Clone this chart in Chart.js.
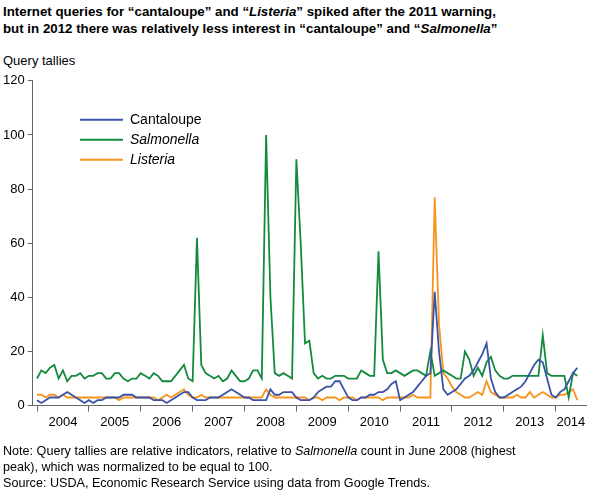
<!DOCTYPE html>
<html><head><meta charset="utf-8">
<script src="https://cdn.jsdelivr.net/npm/chart.js@4"></script>
<style>
body{margin:0;width:590px;height:493px;background:#fff;font-family:Arial,"Liberation Sans",sans-serif;position:relative;overflow:hidden}
#t{position:absolute;left:3px;top:3px;font-size:13.3px;font-weight:bold;line-height:17px;color:#000}
#q{position:absolute;left:3px;top:53px;font-size:13px}
#n{position:absolute;left:3px;top:443px;font-size:12.6px;line-height:16px}
#c{position:absolute;left:0;top:70px;width:590px;height:384px}
</style></head><body>
<div id="t">Internet queries for “cantaloupe” and “<i>Listeria</i>” spiked after the 2011 warning,<br>but in 2012 there was relatively less interest in “cantaloupe” and “<i>Salmonella</i>”</div>
<div id="q">Query tallies</div>
<div id="c"><canvas id="cv"></canvas></div>
<div id="n">Note: Query tallies are relative indicators, relative to <i>Salmonella</i> count in June 2008 (highest<br>peak), which was normalized to be equal to 100.<br>Source: USDA, Economic Research Service using data from Google Trends.</div>
<script>
const years=["2004","2005","2006","2007","2008","2009","2010","2011","2012","2013","2014"];
const seriesNames=["Cantaloupe","Salmonella","Listeria"];
const cantaloupe=[2,1,2,3,3,3,4,5,4,3,2,1, 2,1,2,2,3,3,3,3,4,4,4,3, 3,3,3,2,2,2,1,2,3,4,5,5, 3,2,2,2,3,3,3,4,5,6,5,4, 3,3,2,2,2,2,6,4,4,5,5,5, 3,2,2,2,3,5,6,7,7,9,9,6, 3,2,2,3,3,4,4,5,5,6,8,9, 2,3,4,5,7,9,11,12,42,20,6,4, 5,6,8,10,11,13,16,19,23,10,5,3, 3,4,5,6,7,9,12,15,17,16,10,4, 3,5,6,9,12,14];
const salmonella=[10,13,12,14,15,10,13,9,11,11,12,10, 11,11,12,12,10,10,12,12,10,9,10,10, 12,11,10,12,11,9,9,9,11,13,15,10, 9,62,15,12,11,10,11,9,10,13,11,9, 9,10,13,13,10,100,40,12,11,12,11,10, 91,60,23,24,12,10,11,10,10,11,11,11, 10,10,10,13,12,11,11,57,17,12,12,13, 12,11,12,13,13,12,11,20,11,12,13,12, 11,10,10,20,17,11,14,11,16,18,13,11, 10,10,11,11,11,11,11,11,11,26,12,11, 11,11,11,3,12,11];
const listeria=[4,4,3,4,4,3,4,3,3,3,3,3, 3,3,3,3,3,3,3,2,3,3,3,3, 3,3,3,3,2,3,4,3,4,5,6,4, 3,3,4,3,3,3,3,3,3,3,3,3, 3,3,3,3,3,6,4,3,3,3,3,3, 3,3,3,2,3,3,2,3,3,3,2,3, 3,3,2,3,3,3,3,3,2,3,3,3, 3,3,3,4,3,3,3,3,77,30,12,10, 7,5,4,3,3,4,5,4,9,5,4,3, 3,3,3,4,3,3,5,3,4,5,4,3, 3,4,4,5,6,2];
const colors=["#3a52a8","#138a3e","#f7941d"];
const yTicks=[0,20,40,60,80,100,120];
const pts=a=>a.map((v,i)=>({x:i,y:v}));
const deco={id:'deco',afterDraw(ch){
  const c=ch.ctx,x=ch.scales.x,y=ch.scales.y;
  c.save();c.fillStyle='#000';c.font='13px Arial, "Liberation Sans"';c.textAlign='center';c.textBaseline='top';
  years.forEach((yr,i)=>{const v=i<10?i*12+6:123.5;c.fillText(yr,x.getPixelForValue(v),y.bottom+10);});
  const it=[false,true,true];
  seriesNames.forEach((s,i)=>{const yy=ch.chartArea.top+39+i*20;
    c.strokeStyle=colors[i];c.lineWidth=2;c.beginPath();c.moveTo(80,yy);c.lineTo(123,yy);c.stroke();
    c.font=(it[i]?'italic ':'')+'14px Arial, "Liberation Sans"';c.textAlign='left';c.textBaseline='middle';c.fillText(s,130,yy);});
  c.restore();}};
new Chart(document.getElementById('cv'),{type:'line',
 data:{datasets:[
  {label:seriesNames[0],data:pts(cantaloupe),borderColor:colors[0]},
  {label:seriesNames[1],data:pts(salmonella),borderColor:colors[1]},
  {label:seriesNames[2],data:pts(listeria),borderColor:colors[2]}]},
 options:{responsive:true,maintainAspectRatio:false,animation:false,
  elements:{point:{radius:0},line:{borderWidth:1.8,tension:0}},
  layout:{padding:{left:0,right:4,top:2,bottom:0}},
  plugins:{legend:{display:false},tooltip:{enabled:false}},
  scales:{
   x:{type:'linear',min:-1,max:127,
     afterBuildTicks:s=>{s.ticks=years.map((_,i)=>({value:i*12}));},
     ticks:{callback:()=>'',padding:14},
     grid:{drawOnChartArea:false,tickLength:6,color:'#666'},border:{color:'#666'}},
   y:{min:0,max:120,afterBuildTicks:s=>{s.ticks=yTicks.map(v=>({value:v}));},
     ticks:{color:'#000',font:{size:13,family:'Arial, "Liberation Sans"'},padding:3},
     grid:{drawOnChartArea:false,tickLength:5,color:'#666'},border:{color:'#666'}}}},
 plugins:[deco]});
</script></body></html>
